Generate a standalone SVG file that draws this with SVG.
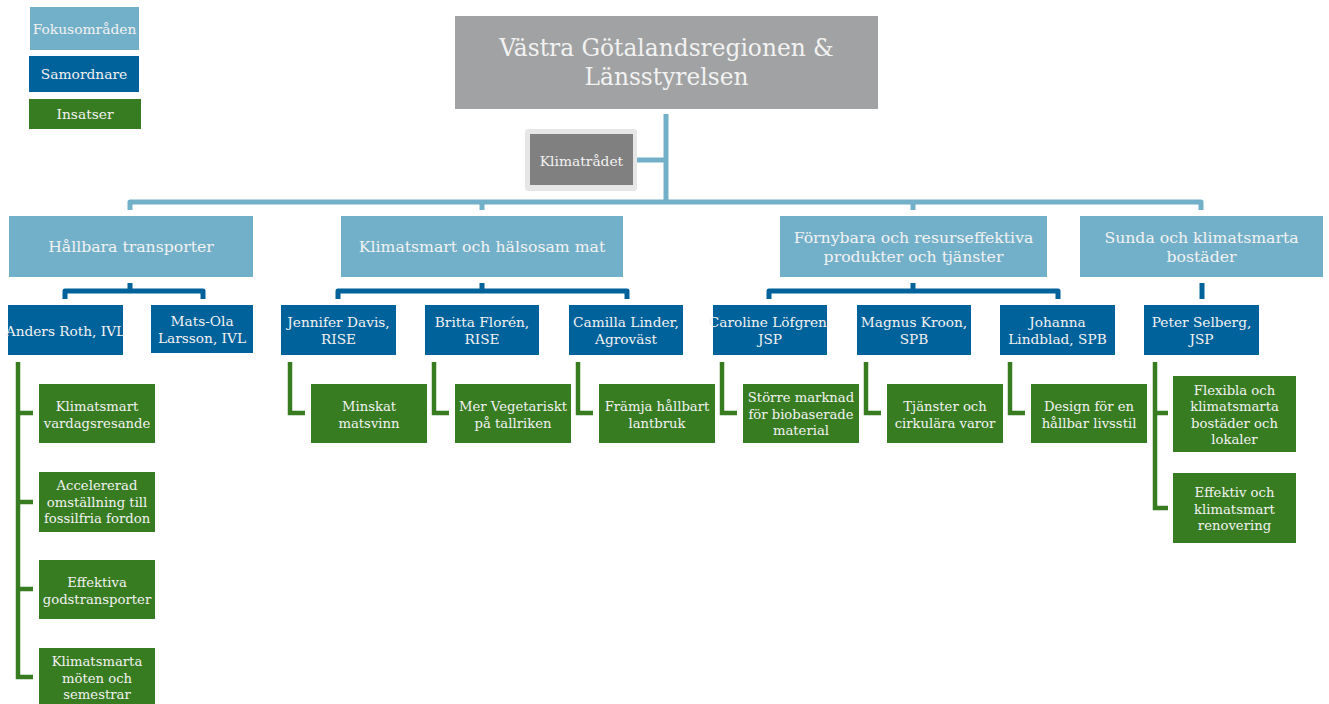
<svg xmlns="http://www.w3.org/2000/svg" width="1329" height="704" viewBox="0 0 1329 704">
<style>
text{font-family:"DejaVu Serif","Liberation Serif",serif;fill:#F2F2F2;text-anchor:middle}
.lb{fill:#72B0C9}
.db{fill:#00629B}
.gr{fill:#387C21}
.t-leg{font-size:13.8px}
.t-top{font-size:23.3px}
.t-fa{font-size:15.7px}
.t-co{font-size:13.7px}
.t-in{font-size:13.2px}
.c-lb{stroke:#72B0C9;stroke-width:5;fill:none;stroke-linejoin:round}
.c-db{stroke:#00629B;stroke-width:5;fill:none;stroke-linejoin:round}
.c-gr{stroke:#387C21;stroke-width:4.5;fill:none;stroke-linejoin:miter}
</style>
<rect width="1329" height="704" fill="#FFFFFF"/>

<g id="connectors">
  <path class="c-lb" d="M666,114 V200"/>
  <path class="c-lb" d="M637,160 H666"/>
  <path class="c-lb" d="M130,210 V202 H1201 V210"/>
  <path class="c-lb" d="M482,202 V210"/>
  <path class="c-lb" d="M913,202 V210"/>
  <path class="c-db" d="M130,283 V291"/>
  <path class="c-db" d="M65,299 V291 H203 V299"/>
  <path class="c-db" d="M482,283 V291"/>
  <path class="c-db" d="M338,299 V291 H627 V299"/>
  <path class="c-db" d="M913,283 V291"/>
  <path class="c-db" d="M769,299 V291 H1058 V299"/>
  <path class="c-db" d="M1202,283 V299"/>
  <path class="c-gr" d="M18,362 V677 H33"/>
  <path class="c-gr" d="M18,413 H33 M18,502 H33 M18,589 H33"/>
  <path class="c-gr" d="M290,362 V413 H305"/>
  <path class="c-gr" d="M434,362 V413 H449"/>
  <path class="c-gr" d="M578,362 V413 H593"/>
  <path class="c-gr" d="M722,362 V413 H737"/>
  <path class="c-gr" d="M866,362 V413 H881"/>
  <path class="c-gr" d="M1010,362 V413 H1025"/>
  <path class="c-gr" d="M1155,362 V508 H1168 M1155,413 H1168"/>
</g>

<g id="legend-fokus"><rect class="lb" x="30" y="7" width="109" height="43"/><text class="t-leg" x="84.5" y="34">Fokusområden</text></g>
<g id="legend-samordnare"><rect class="db" x="29" y="56" width="110" height="36"/><text class="t-leg" x="84" y="79">Samordnare</text></g>
<g id="legend-insatser"><rect class="gr" x="29" y="99" width="112" height="30"/><text class="t-leg" x="85" y="119">Insatser</text></g>

<g id="top"><rect x="455" y="16" width="423" height="93" fill="#A0A2A3"/><text class="t-top" x="666.5" y="56">Västra Götalandsregionen &amp;</text><text class="t-top" x="666.5" y="85">Länsstyrelsen</text></g>
<g id="klimatradet"><rect x="525" y="129" width="112" height="62" rx="3" fill="#E6E6E6"/><rect x="530" y="134" width="103" height="51" fill="#808080"/><text class="t-leg" x="581.5" y="166">Klimatrådet</text></g>

<g id="fa-transport"><rect class="lb" x="9" y="216" width="244" height="61"/><text class="t-fa" x="131" y="252">Hållbara transporter</text></g>
<g id="fa-mat"><rect class="lb" x="341" y="216" width="282" height="61"/><text class="t-fa" x="482" y="252">Klimatsmart och hälsosam mat</text></g>
<g id="fa-produkter"><rect class="lb" x="780" y="216" width="267" height="61"/><text class="t-fa" x="913.5" y="243">Förnybara och resurseffektiva</text><text class="t-fa" x="913.5" y="262">produkter och tjänster</text></g>
<g id="fa-bostader"><rect class="lb" x="1080" y="216" width="243" height="61"/><text class="t-fa" x="1201.5" y="243">Sunda och klimatsmarta</text><text class="t-fa" x="1201.5" y="262">bostäder</text></g>

<g id="co-anders"><rect class="db" x="8" y="305" width="115" height="50"/><text class="t-co" x="65.5" y="336">Anders Roth, IVL</text></g>
<g id="co-matsola"><rect class="db" x="151" y="305" width="102" height="48"/><text class="t-co" x="202" y="326">Mats-Ola</text><text class="t-co" x="202" y="343">Larsson, IVL</text></g>
<g id="co-jennifer"><rect class="db" x="281" y="305" width="115" height="50"/><text class="t-co" x="338.5" y="327">Jennifer Davis,</text><text class="t-co" x="338.5" y="344">RISE</text></g>
<g id="co-britta"><rect class="db" x="425" y="305" width="114" height="50"/><text class="t-co" x="482" y="327">Britta Florén,</text><text class="t-co" x="482" y="344">RISE</text></g>
<g id="co-camilla"><rect class="db" x="569" y="305" width="114" height="50"/><text class="t-co" x="626" y="327">Camilla Linder,</text><text class="t-co" x="626" y="344">Agroväst</text></g>
<g id="co-caroline"><rect class="db" x="713" y="305" width="114" height="50"/><text class="t-co" x="770" y="327">Caroline Löfgren,</text><text class="t-co" x="770" y="344">JSP</text></g>
<g id="co-magnus"><rect class="db" x="857" y="305" width="114" height="50"/><text class="t-co" x="914" y="327">Magnus Kroon,</text><text class="t-co" x="914" y="344">SPB</text></g>
<g id="co-johanna"><rect class="db" x="1000" y="305" width="115" height="50"/><text class="t-co" x="1057.5" y="327">Johanna</text><text class="t-co" x="1057.5" y="344">Lindblad, SPB</text></g>
<g id="co-peter"><rect class="db" x="1144" y="305" width="115" height="50"/><text class="t-co" x="1201.5" y="327">Peter Selberg,</text><text class="t-co" x="1201.5" y="344">JSP</text></g>

<g id="in-vardag"><rect class="gr" x="39" y="384" width="116" height="59"/><text class="t-in" x="97" y="411">Klimatsmart</text><text class="t-in" x="97" y="427.5">vardagsresande</text></g>
<g id="in-fordon"><rect class="gr" x="39" y="472" width="116" height="60"/><text class="t-in" x="97" y="490">Accelererad</text><text class="t-in" x="97" y="506.5">omställning till</text><text class="t-in" x="97" y="523">fossilfria fordon</text></g>
<g id="in-gods"><rect class="gr" x="39" y="560" width="116" height="59"/><text class="t-in" x="97" y="587">Effektiva</text><text class="t-in" x="97" y="603.5">godstransporter</text></g>
<g id="in-moten"><rect class="gr" x="39" y="648" width="116" height="60"/><text class="t-in" x="97" y="666">Klimatsmarta</text><text class="t-in" x="97" y="682.5">möten och</text><text class="t-in" x="97" y="699">semestrar</text></g>
<g id="in-matsvinn"><rect class="gr" x="311" y="384" width="116" height="59"/><text class="t-in" x="369" y="411">Minskat</text><text class="t-in" x="369" y="427.5">matsvinn</text></g>
<g id="in-vegetariskt"><rect class="gr" x="455" y="384" width="116" height="59"/><text class="t-in" x="513" y="411">Mer Vegetariskt</text><text class="t-in" x="513" y="427.5">på tallriken</text></g>
<g id="in-lantbruk"><rect class="gr" x="599" y="384" width="116" height="59"/><text class="t-in" x="657" y="411">Främja hållbart</text><text class="t-in" x="657" y="427.5">lantbruk</text></g>
<g id="in-biobaserade"><rect class="gr" x="743" y="384" width="116" height="59"/><text class="t-in" x="801" y="402">Större marknad</text><text class="t-in" x="801" y="418.5">för biobaserade</text><text class="t-in" x="801" y="435">material</text></g>
<g id="in-cirkulara"><rect class="gr" x="887" y="384" width="116" height="59"/><text class="t-in" x="945" y="411">Tjänster och</text><text class="t-in" x="945" y="427.5">cirkulära varor</text></g>
<g id="in-livsstil"><rect class="gr" x="1031" y="384" width="116" height="59"/><text class="t-in" x="1089" y="411">Design för en</text><text class="t-in" x="1089" y="427.5">hållbar livsstil</text></g>
<g id="in-flexibla"><rect class="gr" x="1173" y="376" width="123" height="76"/><text class="t-in" x="1234.5" y="394.5">Flexibla och</text><text class="t-in" x="1234.5" y="411">klimatsmarta</text><text class="t-in" x="1234.5" y="427.5">bostäder och</text><text class="t-in" x="1234.5" y="444">lokaler</text></g>
<g id="in-renovering"><rect class="gr" x="1173" y="473" width="123" height="70"/><text class="t-in" x="1234.5" y="497">Effektiv och</text><text class="t-in" x="1234.5" y="513.5">klimatsmart</text><text class="t-in" x="1234.5" y="530">renovering</text></g>
</svg>
